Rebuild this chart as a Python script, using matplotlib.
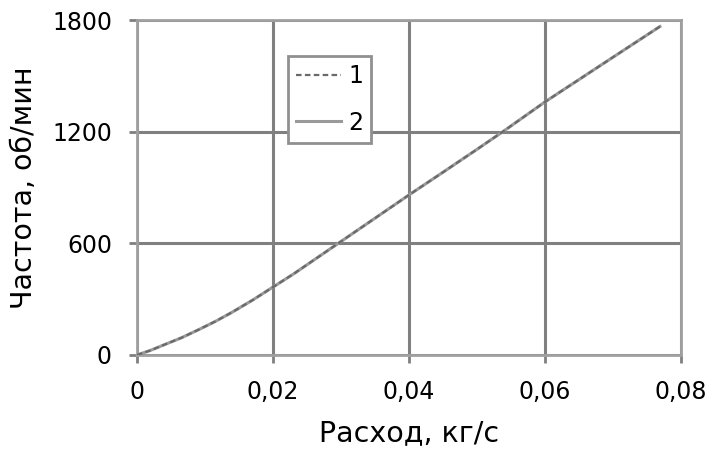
import matplotlib
matplotlib.use("Agg")
import matplotlib.pyplot as plt
from matplotlib.ticker import FuncFormatter

plt.rcParams['font.family'] = ['DejaVu Sans']

flow = [0.0, 0.002, 0.004, 0.0065, 0.009, 0.0115, 0.014, 0.017, 0.02, 0.023, 0.026,
        0.03, 0.035, 0.04, 0.045, 0.05, 0.054, 0.06, 0.065, 0.07, 0.0769]
freq1 = [0, 25, 55, 92, 135, 180, 230, 295, 365, 435, 510,
         610, 735, 860, 982, 1105, 1205, 1360, 1480, 1600, 1765]
freq2 = [0, 25, 55, 92, 135, 180, 230, 295, 365, 435, 510,
         610, 735, 860, 982, 1105, 1205, 1360, 1480, 1600, 1765]
xticks = [0, 0.02, 0.04, 0.06, 0.08]
yticks = [0, 600, 1200, 1800]

fig = plt.figure(figsize=(7.07, 4.49), dpi=100)
ax = fig.add_axes([137/707, 1 - 355/449, (681-137)/707, (355-20)/449])

ax.plot(flow, freq2, color='#9a9a9a', lw=2.2, label='2', zorder=3)
ax.plot(flow, freq1, color='#6a6a6a', lw=1.6, ls=(0, (2.5, 1.5)), label='1', zorder=4)

ax.set_xlim(0, 0.08)
ax.set_ylim(0, 1800)
ax.set_xticks(xticks)
ax.set_yticks(yticks)
ax.xaxis.set_major_formatter(FuncFormatter(lambda v, p: '0' if v == 0 else f'{v:.2f}'.replace('.', ',')))
ax.grid(True, color='#808080', lw=2.2)
ax.set_axisbelow(True)
for s in ax.spines.values():
    s.set_color('#a0a0a0')
    s.set_linewidth(2)
ax.tick_params(axis='both', length=6, width=2, color='#808080', labelsize=17, colors='#808080',
               labelcolor='black')
ax.tick_params(axis='x', pad=12)
ax.tick_params(axis='y', pad=12)
ax.set_xlabel('Расход, кг/с', fontsize=20.5, labelpad=11)
ax.set_ylabel('Частота, об/мин', fontsize=20.5, labelpad=10)

h, l = ax.get_legend_handles_labels()
leg = ax.legend([h[1], h[0]], ['1', '2'], loc='upper left', bbox_to_anchor=((288-137)/544, 1 - (56-20)/335),
                fontsize=17, frameon=True, fancybox=False, handlelength=1.9, borderpad=0.35, labelspacing=0.95,
                handletextpad=0.3, borderaxespad=0)
leg.get_frame().set_edgecolor('#909090')
leg.get_frame().set_linewidth(2)
leg.get_frame().set_alpha(1)

fig.savefig('out.png', dpi=100)
